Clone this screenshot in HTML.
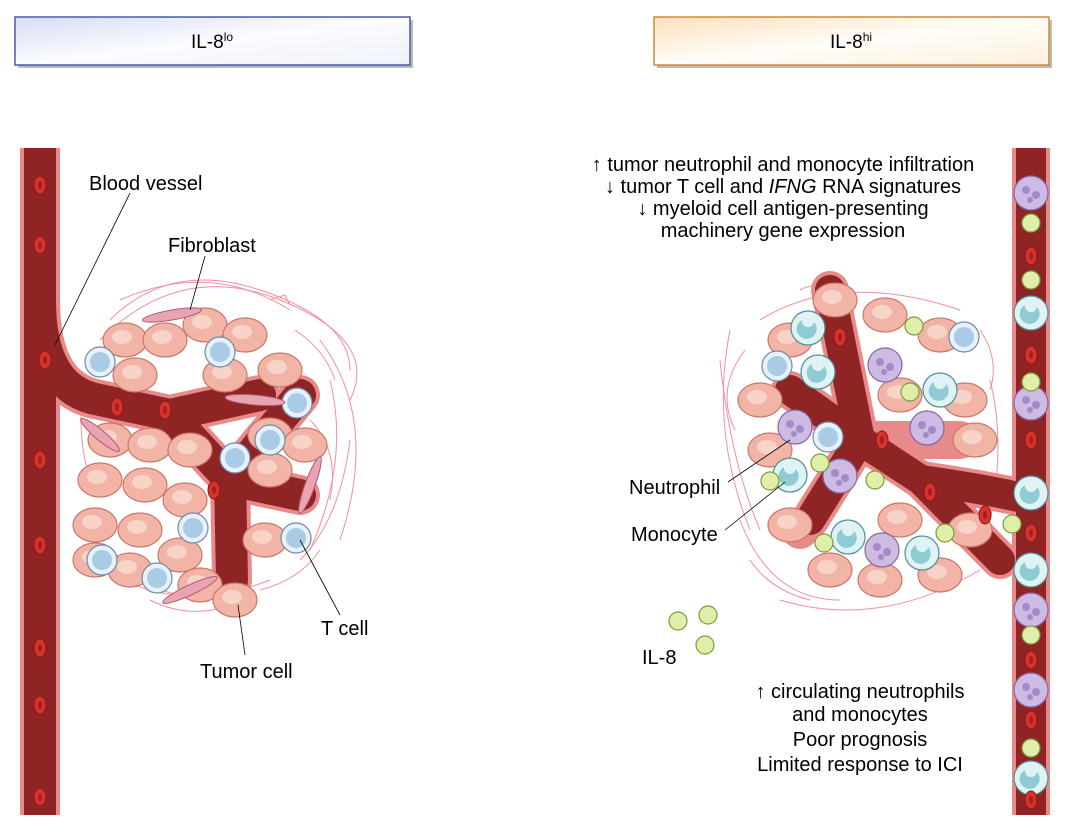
<!DOCTYPE html>
<html><head><meta charset="utf-8"><style>
body{margin:0;background:#fff;}
svg{display:block;font-family:"Liberation Sans",sans-serif;}
</style></head><body>
<svg width="1071" height="836" viewBox="0 0 1071 836" xmlns="http://www.w3.org/2000/svg">
<defs>
<linearGradient id="gb" x1="0" y1="0" x2="1" y2="1"><stop offset="0" stop-color="#d7ddf3"/><stop offset="0.5" stop-color="#fbfcff"/><stop offset="1" stop-color="#f0f2fb"/></linearGradient>
<linearGradient id="go" x1="0" y1="0" x2="1" y2="1"><stop offset="0" stop-color="#fbe0bd"/><stop offset="0.5" stop-color="#fffdf9"/><stop offset="1" stop-color="#fdf0dc"/></linearGradient>
<g id="tc"><ellipse rx="22" ry="17" fill="#f2b4a6" stroke="#c9776a" stroke-width="1.2"/><ellipse cx="-3" cy="-3" rx="10" ry="7" fill="#f8d3c8"/></g>
<g id="t"><circle r="15" fill="#e7f1fa" stroke="#6f8ba6" stroke-width="1.2"/><circle r="10" fill="#a9cbe6"/></g>
<g id="n"><circle r="17" fill="#cdbbe4" stroke="#8466a6" stroke-width="1.2"/><circle cx="-5" cy="-3" r="4" fill="#a58ac8"/><circle cx="5" cy="2" r="4" fill="#a58ac8"/><circle cx="-1" cy="7" r="3" fill="#a58ac8"/></g>
<g id="m"><circle r="17" fill="#dff2f4" stroke="#4d8f98" stroke-width="1.2"/><path d="M-6,-8 a10,10 0 1,0 12,2 a5,5 0 1,1 -12,-2z" fill="#8fcbd3"/></g>
<g id="g"><circle r="9" fill="#dfeea8" stroke="#7c9c3a" stroke-width="1.2"/></g>
<g id="rb"><ellipse rx="6" ry="9" fill="#d8322c" stroke="#8a1818"/><ellipse rx="2" ry="4" fill="#a61f1f"/></g>
</defs>
<rect x="18" y="20" width="395" height="48" fill="#bbb"/>
<rect x="15" y="17" width="395" height="48" fill="url(#gb)" stroke="#4a5aa8" stroke-width="1.5"/>
<text x="212" y="48" font-size="19" text-anchor="middle">IL-8<tspan font-size="12" dy="-7">lo</tspan></text>
<rect x="657" y="20" width="395" height="48" fill="#bbb"/>
<rect x="654" y="17" width="395" height="48" fill="url(#go)" stroke="#c88c3c" stroke-width="1.5"/>
<text x="851" y="48" font-size="19" text-anchor="middle">IL-8<tspan font-size="12" dy="-7">hi</tspan></text>

<g stroke="#f07c8c" stroke-width="1" fill="none" opacity="0.85">
<path d="M110,320 q60,-60 150,-30 t90,80"/><path d="M100,340 q80,-80 180,-40 t70,100"/><path d="M320,340 q60,80 20,200"/><path d="M330,380 q20,80 -20,170"/><path d="M90,560 q80,60 180,20"/><path d="M80,520 q40,80 150,80"/><path d="M120,300 q90,-40 170,10"/><path d="M300,560 q40,-40 50,-120"/>
<path d="M270,300 l15,-5 l5,10 M310,420 q30,30 20,80 M85,380 q-10,50 5,100 M150,600 q40,20 80,5 M260,590 q40,-10 60,-40 M295,330 q30,20 40,50"/>
</g>
<g stroke-linejoin="round" stroke-linecap="round" fill="none">
<path d="M40,300 q0,90 60,100 L170,415 L260,395 M170,415 L230,480 L300,495 M230,480 L232,580 M230,480 L300,395" stroke="#e88a8a" stroke-width="40"/>
<path d="M40,148 V815" stroke="#e88a8a" stroke-width="40" stroke-linecap="butt"/>
<path d="M40,148 V815" stroke="#8f2424" stroke-width="32" stroke-linecap="butt"/>
<path d="M40,300 q0,90 60,100 L170,415 L260,395 M170,415 L230,480 L300,495 M230,480 L232,580 M230,480 L300,395" stroke="#8f2424" stroke-width="32"/>
</g>
<g>
<use href="#tc" x="125" y="340"/><use href="#tc" x="165" y="340"/><use href="#tc" x="205" y="325"/><use href="#tc" x="245" y="335"/><use href="#tc" x="280" y="370"/>
<use href="#tc" x="135" y="375"/><use href="#tc" x="225" y="375"/><use href="#tc" x="110" y="440"/><use href="#tc" x="150" y="445"/><use href="#tc" x="190" y="450"/>
<use href="#tc" x="270" y="435"/><use href="#tc" x="305" y="445"/><use href="#tc" x="100" y="480"/><use href="#tc" x="145" y="485"/><use href="#tc" x="185" y="500"/>
<use href="#tc" x="270" y="470"/><use href="#tc" x="95" y="525"/><use href="#tc" x="140" y="530"/><use href="#tc" x="180" y="555"/><use href="#tc" x="265" y="540"/>
<use href="#tc" x="130" y="570"/><use href="#tc" x="200" y="585"/><use href="#tc" x="235" y="600"/><use href="#tc" x="95" y="560"/>
</g>
<g><use href="#t" x="100" y="362"/><use href="#t" x="220" y="352"/><use href="#t" x="297" y="403"/><use href="#t" x="270" y="440"/><use href="#t" x="235" y="458"/><use href="#t" x="193" y="528"/><use href="#t" x="296" y="538"/><use href="#t" x="102" y="560"/><use href="#t" x="157" y="578"/></g>
<g><use href="#rb" x="40" y="185"/><use href="#rb" x="40" y="245"/><use href="#rb" x="45" y="360"/><use href="#rb" x="40" y="460"/><use href="#rb" x="40" y="545"/><use href="#rb" x="40" y="648"/><use href="#rb" x="40" y="705"/><use href="#rb" x="40" y="797"/><use href="#rb" x="117" y="407"/><use href="#rb" x="165" y="410"/><use href="#rb" x="214" y="490"/></g>
<g fill="#e9a4b4" stroke="#b05872"><ellipse cx="172" cy="315" rx="30" ry="5" transform="rotate(-10 172 315)"/><ellipse cx="255" cy="400" rx="30" ry="5" transform="rotate(5 255 400)"/><ellipse cx="310" cy="485" rx="30" ry="5" transform="rotate(-70 310 485)"/><ellipse cx="190" cy="590" rx="30" ry="5" transform="rotate(-25 190 590)"/><ellipse cx="100" cy="435" rx="25" ry="5" transform="rotate(40 100 435)"/></g>
<g stroke="#000" stroke-width="0.8"><line x1="130" y1="193" x2="55" y2="345"/><line x1="205" y1="256" x2="190" y2="310"/><line x1="340" y1="615" x2="300" y2="540"/><line x1="245" y1="655" x2="238" y2="605"/></g>
<g font-size="20"><text x="89" y="190">Blood vessel</text><text x="168" y="252">Fibroblast</text><text x="321" y="635">T cell</text><text x="200" y="678">Tumor cell</text></g>

<g font-size="20" text-anchor="middle"><text x="783" y="171">↑ tumor neutrophil and monocyte infiltration</text><text x="783" y="193">↓ tumor T cell and <tspan font-style="italic">IFNG</tspan> RNA signatures</text><text x="783" y="215">↓ myeloid cell antigen-presenting</text><text x="783" y="237">machinery gene expression</text>
<text x="860" y="698">↑ circulating neutrophils</text><text x="860" y="721">and monocytes</text><text x="860" y="746">Poor prognosis</text><text x="860" y="771">Limited response to ICI</text></g>
<g stroke="#f07c8c" stroke-width="1" fill="none" opacity="0.85">
<path d="M730,330 q-20,100 20,200"/><path d="M720,360 q10,100 40,170"/><path d="M760,320 q80,-50 200,-10"/><path d="M780,600 q100,30 200,-30"/><path d="M990,380 q20,80 -10,180"/><path d="M740,520 q30,80 100,80"/>
<path d="M745,350 q-30,40 -10,80 M750,560 q20,30 60,40 M980,330 q20,30 10,60 M800,290 q20,-10 30,0"/>
</g>
<g stroke-linejoin="round" stroke-linecap="round" fill="none">
<path d="M1031,500 q-40,-10 -110,-20 L860,440 L830,290 M860,440 L790,390 M860,440 L810,520 L800,530 M921,480 L1000,560 M860,440 L960,440" stroke="#e88a8a" stroke-width="38"/>
<path d="M1031,148 V815" stroke="#e88a8a" stroke-width="38" stroke-linecap="butt"/>
<path d="M1031,148 V815" stroke="#8f2424" stroke-width="30" stroke-linecap="butt"/>
<path d="M1031,500 q-40,-10 -110,-20 L860,440 L830,290 M860,440 L790,390 M860,440 L810,520 M921,480 L1000,560" stroke="#8f2424" stroke-width="30"/>
</g>
<g>
<use href="#tc" x="835" y="300"/><use href="#tc" x="885" y="315"/><use href="#tc" x="940" y="335"/><use href="#tc" x="790" y="340"/><use href="#tc" x="965" y="400"/>
<use href="#tc" x="900" y="395"/><use href="#tc" x="975" y="440"/><use href="#tc" x="770" y="450"/><use href="#tc" x="790" y="525"/><use href="#tc" x="830" y="570"/>
<use href="#tc" x="880" y="580"/><use href="#tc" x="940" y="575"/><use href="#tc" x="970" y="530"/><use href="#tc" x="760" y="400"/><use href="#tc" x="900" y="520"/>
</g>
<g><use href="#m" x="808" y="328"/><use href="#m" x="818" y="372"/><use href="#m" x="940" y="390"/><use href="#m" x="790" y="475"/><use href="#m" x="848" y="537"/><use href="#m" x="922" y="553"/><use href="#m" x="1031" y="313"/><use href="#m" x="1031" y="493"/><use href="#m" x="1031" y="570"/><use href="#m" x="1031" y="778"/></g>
<g><use href="#t" x="777" y="366"/><use href="#t" x="964" y="337"/><use href="#t" x="828" y="437"/></g>
<g><use href="#n" x="885" y="365"/><use href="#n" x="927" y="428"/><use href="#n" x="795" y="427"/><use href="#n" x="840" y="476"/><use href="#n" x="882" y="550"/><use href="#n" x="1031" y="193"/><use href="#n" x="1031" y="403"/><use href="#n" x="1031" y="610"/><use href="#n" x="1031" y="690"/></g>
<g><use href="#g" x="914" y="326"/><use href="#g" x="910" y="392"/><use href="#g" x="820" y="463"/><use href="#g" x="770" y="481"/><use href="#g" x="875" y="480"/><use href="#g" x="824" y="543"/><use href="#g" x="945" y="533"/><use href="#g" x="678" y="621"/><use href="#g" x="708" y="615"/><use href="#g" x="705" y="645"/><use href="#g" x="1031" y="223"/><use href="#g" x="1031" y="280"/><use href="#g" x="1031" y="382"/><use href="#g" x="1012" y="524"/><use href="#g" x="1031" y="635"/><use href="#g" x="1031" y="748"/></g>
<g><use href="#rb" x="1031" y="256"/><use href="#rb" x="1031" y="355"/><use href="#rb" x="1031" y="440"/><use href="#rb" x="1031" y="533"/><use href="#rb" x="1031" y="660"/><use href="#rb" x="1031" y="720"/><use href="#rb" x="1031" y="800"/><use href="#rb" x="840" y="337"/><use href="#rb" x="882" y="440"/><use href="#rb" x="930" y="492"/><use href="#rb" x="985" y="515"/></g>
<g stroke="#000" stroke-width="0.8"><line x1="728" y1="482" x2="790" y2="440"/><line x1="725" y1="530" x2="785" y2="482"/></g>
<g font-size="20"><text x="629" y="494">Neutrophil</text><text x="631" y="541">Monocyte</text><text x="642" y="664">IL-8</text></g>
</svg>
</body></html>
